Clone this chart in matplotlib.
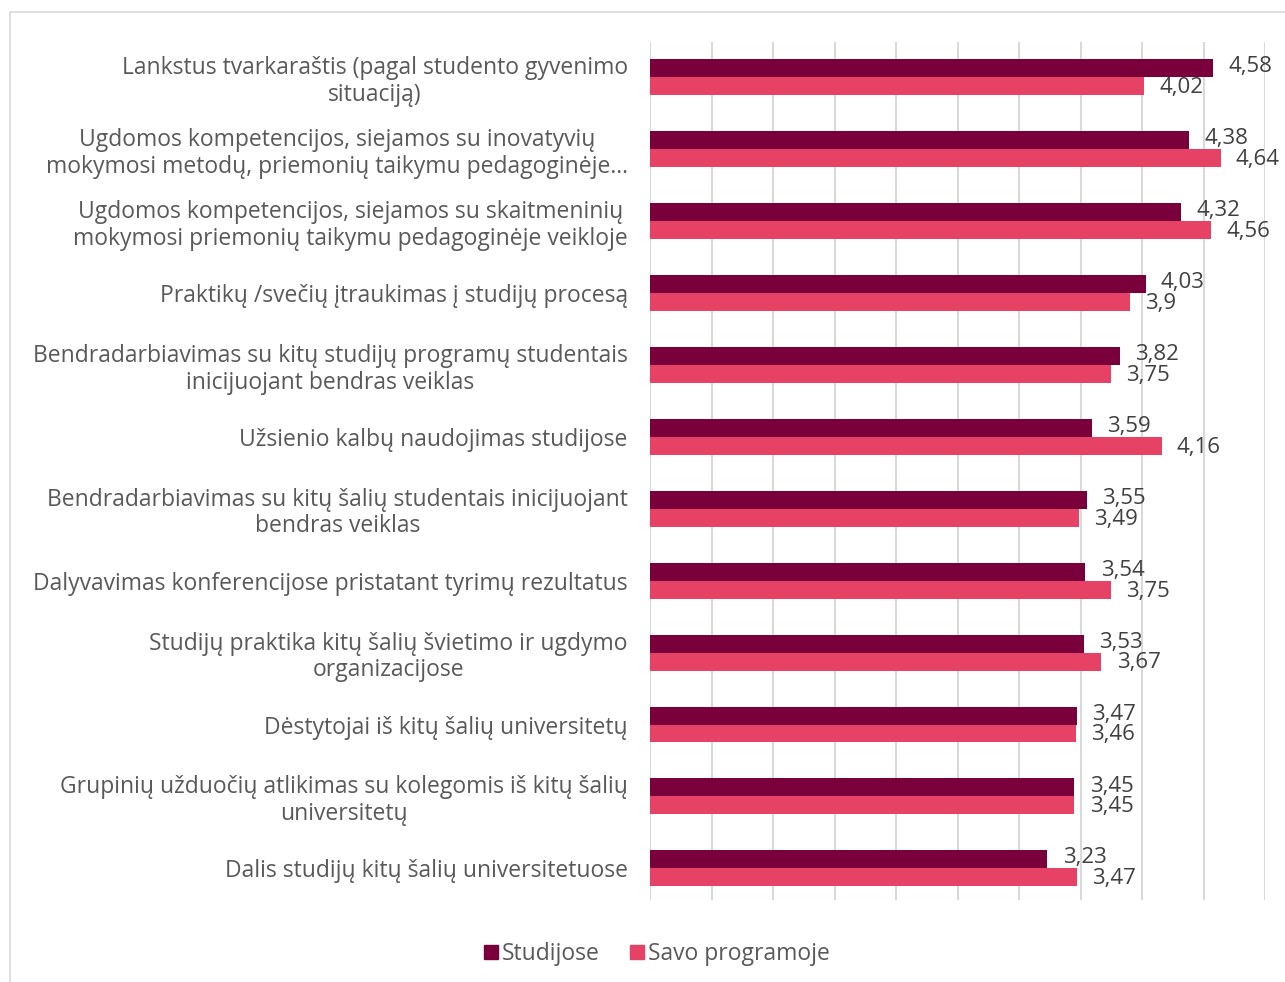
import numpy as np
import matplotlib
matplotlib.use('Agg')
import matplotlib.pyplot as plt
from matplotlib.patches import Patch, Rectangle

# chart data
categories = [
    'Lankstus tvarkaraštis (pagal studento gyvenimo\nsituaciją)',
    'Ugdomos kompetencijos, siejamos su inovatyvių\nmokymosi metodų, priemonių taikymu pedagoginėje...',
    'Ugdomos kompetencijos, siejamos su skaitmeninių\nmokymosi priemonių taikymu pedagoginėje veikloje',
    'Praktikų /svečių įtraukimas į studijų procesą',
    'Bendradarbiavimas su kitų studijų programų studentais\ninicijuojant bendras veiklas',
    'Užsienio kalbų naudojimas studijose',
    'Bendradarbiavimas su kitų šalių studentais inicijuojant\nbendras veiklas',
    'Dalyvavimas konferencijose pristatant tyrimų rezultatus',
    'Studijų praktika kitų šalių švietimo ir ugdymo\norganizacijose',
    'Dėstytojai iš kitų šalių universitetų',
    'Grupinių užduočių atlikimas su kolegomis iš kitų šalių\nuniversitetų',
    'Dalis studijų kitų šalių universitetuose',
]
studijose = [4.58, 4.38, 4.32, 4.03, 3.82, 3.59, 3.55, 3.54, 3.53, 3.47, 3.45, 3.23]
savo_programoje = [4.02, 4.64, 4.56, 3.90, 3.75, 4.16, 3.49, 3.75, 3.67, 3.46, 3.45, 3.47]
series_names = ['Studijose', 'Savo programoje']

DARK = '#7a003c'
PINK = '#e54265'
TEXT = '#595959'
GRID = '#d9d9d9'

plt.rcParams['font.family'] = ['Open Sans', 'DejaVu Sans']

W, H = 1285, 982
fig = plt.figure(figsize=(W / 100, H / 100), dpi=100)
# light frame around the chart area (cut off on the right/bottom like the original)
fig.patches.append(Rectangle((10 / W, -0.1), 1.2, 1 - 12 / H + 0.1, fill=False,
                             ec=GRID, lw=1.2, transform=fig.transFigure))

ax = fig.add_axes([650 / W, (H - 900) / H, 615 / W, 858 / H])
y = np.arange(len(categories))
h = 0.25
ax.barh(y - h / 2, studijose, height=h, color=DARK)
ax.barh(y + h / 2, savo_programoje, height=h, color=PINK)

def fmt(v):
    return f'{v:g}'.replace('.', ',')

# value labels right of each bar
for yi, v in zip(y, studijose):
    ax.annotate(fmt(v), (v, yi - h / 2), xytext=(11, 1), textcoords='offset points',
                va='center', ha='left', fontsize=16, color='#404040', annotation_clip=False)
for yi, v in zip(y, savo_programoje):
    ax.annotate(fmt(v), (v, yi + h / 2), xytext=(11, -1), textcoords='offset points',
                va='center', ha='left', fontsize=16, color='#404040', annotation_clip=False)

ax.set_xlim(0, 5)
ax.set_ylim(11.44, -0.49)
ax.set_xticks(np.arange(0, 5.01, 0.5))
ax.set_xticklabels([])
ax.tick_params(axis='x', length=0)
ax.grid(axis='x', color=GRID, lw=1.5)
ax.set_axisbelow(True)
for s in ax.spines.values():
    s.set_visible(False)

ax.set_yticks(y)
ax.set_yticklabels(categories, fontsize=16.5, color=TEXT)
ax.tick_params(axis='y', length=0, pad=16)
for t in ax.get_yticklabels():
    t.set_multialignment('center')
    t.set_linespacing(1.15)

handles = [Patch(color=DARK, label=series_names[0]), Patch(color=PINK, label=series_names[1])]
fig.legend(handles=handles, loc='center', bbox_to_anchor=(657 / W, 1 - 954 / H), ncol=2,
           frameon=False, fontsize=16.5, handlelength=0.6, handleheight=0.6,
           handletextpad=0.2, columnspacing=1.3, labelcolor=TEXT)

fig.savefig('out.png', dpi=100)
